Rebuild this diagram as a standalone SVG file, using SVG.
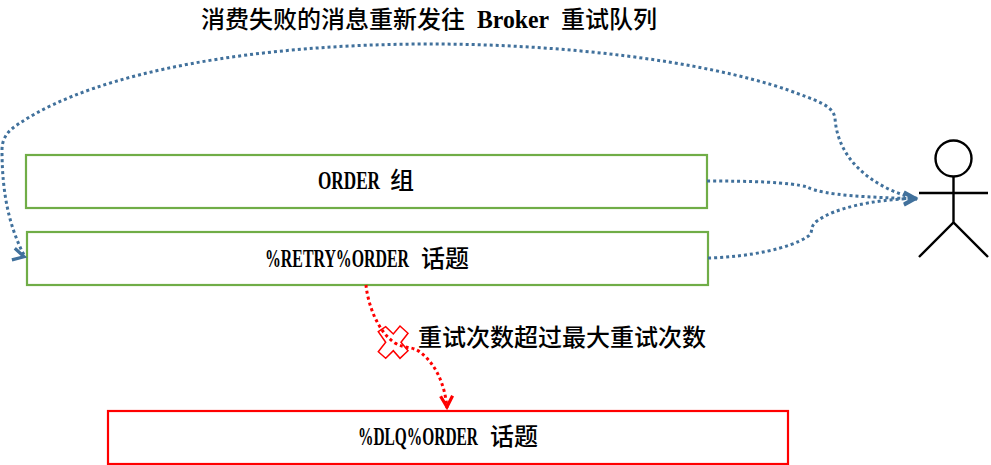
<svg xmlns="http://www.w3.org/2000/svg" width="991" height="465" viewBox="0 0 991 465">
<style>
.box{fill:#fff;stroke-width:2.2}
.g{stroke:#70AD47}
.r{stroke:#FF0000}
.t{font-family:"Noto Sans CJK SC","Noto Sans",sans-serif;font-size:24px;font-weight:500;fill:#000}
.l{font-family:"Liberation Serif",serif;font-size:26px;font-weight:700}
.c{fill:none;stroke-width:3;stroke-dasharray:3 3}
.b{stroke:#41719C}
.d{stroke:#FF0000}
.a{fill:none;stroke:#000;stroke-width:2.4}
</style>
<defs>
<marker id="ab" markerUnits="userSpaceOnUse" markerWidth="18" markerHeight="18" refX="16" refY="9" orient="0"><path d="M3 3L14 9L3 15" fill="none" stroke="#41719C" stroke-width="3.200"/></marker>
<marker id="abl" markerUnits="userSpaceOnUse" markerWidth="18" markerHeight="18" refX="15" refY="9" orient="14"><path d="M3 3L14 9L3 15" fill="none" stroke="#41719C" stroke-width="3.200"/></marker>
<marker id="ar" markerUnits="userSpaceOnUse" markerWidth="18" markerHeight="18" refX="15" refY="9" orient="88"><path d="M3 3L14 9L3 15" fill="none" stroke="#FF0000" stroke-width="3.200"/></marker>
</defs>
<text class="t" x="201" y="28">消费失败的消息重新发往<tspan class="l" x="477" textLength="72" lengthAdjust="spacingAndGlyphs">Broker</tspan><tspan x="561">重试队列</tspan></text>
<g id="order-group"><rect class="box g" x="26" y="155" width="681" height="53"/><text class="t" x="318" y="189"><tspan class="l" textLength="62" lengthAdjust="spacingAndGlyphs">ORDER</tspan><tspan x="390">组</tspan></text></g>
<g id="retry-topic"><rect class="box g" x="27" y="232" width="681" height="53"/><text class="t" x="265" y="267"><tspan class="l" textLength="144" lengthAdjust="spacingAndGlyphs">%RETRY%ORDER</tspan><tspan x="421">话题</tspan></text></g>
<g id="dlq-topic"><rect class="box r" x="108" y="411" width="680" height="53"/><text class="t" x="358" y="445"><tspan class="l" textLength="120" lengthAdjust="spacingAndGlyphs">%DLQ%ORDER</tspan><tspan x="490">话题</tspan></text></g>
<g id="consumer" class="a"><circle cx="953.5" cy="158.5" r="18"/><path d="M953.5 176.500V222.500M919 193H988M919 257L953.500 222.500L988 257"/></g>
<g id="cross"><path d="M378.300 331.700L385.700 326.700L393.300 334L400 326L408 333.300L401 342.300L408 350.700L400 358.300L393.300 350.700L385.700 358.300L378.300 351.700L385.700 342.300Z" fill="#fff" stroke="#FF0000" stroke-width="1.500"/></g>
<g id="connectors">
<path class="c b" marker-end="url(#abl)" d="M917 199C880 190 838 165 835 118C833 105 815 100 788 90C700 60 560 44 430 44C260 44 100 70 20 123C12 128 2 135 2 150C2 190 8 225 25 257"/>
<path class="c b" marker-end="url(#ab)" d="M707 181C750 181 790 182 807 187C825 196 870 197 917 199"/>
<path class="c b" marker-end="url(#ab)" d="M708 258C750 257 790 248 807 237C815 232 808 228 817 221C835 208 870 200 917 198"/>
<path class="c d" marker-end="url(#ar)" d="M366 285C368 305 378 332 395 343C405 349 412 346 420 352C436 364 445 385 447 408"/>
</g>
<text class="t" x="418" y="346">重试次数超过最大重试次数</text>
</svg>
